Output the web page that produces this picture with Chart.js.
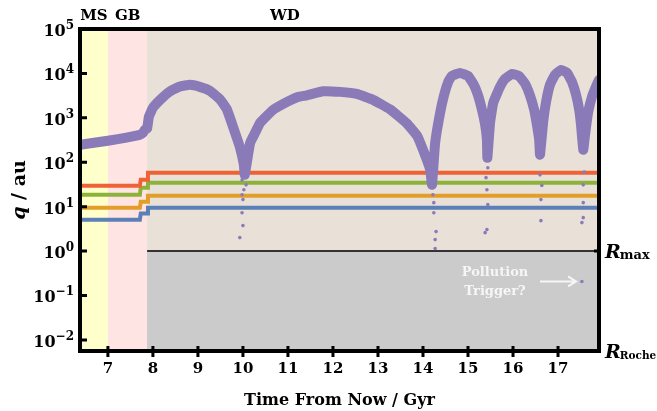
<!DOCTYPE html>
<html>
<head>
<meta charset="utf-8">
<script src="https://cdn.jsdelivr.net/npm/chart.js@4.4.1/dist/chart.umd.min.js"></script>
<style>
    html, body { margin: 0; padding: 0; background: #fff; }
    #wrap { width: 657px; height: 411px; position: relative; }
</style>
</head>
<body>
<div id="wrap"><canvas id="orbitChart"></canvas></div>
<script>
// 坐标轴范围
const timeMin = 6.38;
const timeMax = 17.91;
const qMin = 0.00562;
const qMax = 1e5;
const timeTicks = [7, 8, 9, 10, 11, 12, 13, 14, 15, 16, 17];
const qTickExponents = [-2, -1, 0, 1, 2, 3, 4, 5];

// 演化阶段
const phaseNames = ['MS', 'GB', 'WD'];
const phaseEdges = [6.38, 7.0, 7.87, 17.91];
const rMax = 1.0;

// 行星轨道 q (au)
const planetTime = [6.38, 7.71, 7.73, 7.87, 7.89, 17.91];
const planetRed = [29.6, 29.6, 40.5, 40.5, 58, 58];
const planetGreen = [18.6, 18.6, 26.7, 26.7, 34.7, 34.7];
const planetOrange = [9.5, 9.5, 12.9, 12.9, 17.7, 17.7];
const planetBlue = [5.1, 5.1, 7.0, 7.0, 9.5, 9.5];

// 小行星带近心距
const beltTime = [6.38, 7.00, 7.71, 7.78, 7.82, 7.87, 7.91, 8.00, 8.16, 8.38, 8.60, 8.82, 9.04, 9.27,
    9.49, 9.64, 9.78, 9.93, 10.02, 10.04, 10.16, 10.27, 10.38, 10.67, 10.98, 11.22, 11.42, 11.78,
    12.16, 12.53, 12.89, 13.27, 13.64, 13.87, 14.00, 14.16, 14.20, 14.27, 14.38, 14.47, 14.56, 14.64,
    14.82, 15.00, 15.13, 15.22, 15.31, 15.38, 15.42, 15.43, 15.49, 15.56, 15.71, 15.82, 15.98, 16.13,
    16.27, 16.38, 16.47, 16.53, 16.58, 16.60, 16.67, 16.73, 16.82, 16.93, 17.07, 17.20, 17.31, 17.40,
    17.47, 17.51, 17.56, 17.60, 17.67, 17.76, 17.84, 17.91];
const beltQ = [247, 304, 415, 460, 537, 566, 1050, 1680, 2540, 3950, 5100, 5520, 4980, 4040,
    2610, 1580, 628, 223, 88, 52, 274, 460, 773, 1510, 2290, 2960, 3210, 3950,
    3840, 3460, 2540, 1550, 752, 394, 191, 68, 31, 274, 1290, 3290, 6440, 8790,
    10260, 8790, 5520, 3290, 1510, 697, 320, 126, 773, 2170, 4980, 7520, 9750, 8790,
    5810, 3120, 1510, 697, 320, 148, 813, 2170, 5520, 9250, 12000, 10260, 6440, 3290,
    1510, 697, 191, 415, 1365, 3120, 4980, 7150];

// 散落的点
const strayTime = [9.98, 10.07, 10.02, 9.98, 10.0, 9.98, 10.0, 9.93,
    14.22, 14.24, 14.24, 14.29, 14.27, 14.27,
    15.40, 15.44, 15.42, 15.44, 15.42, 15.38,
    16.60, 16.64, 16.62, 16.62,
    17.58, 17.56, 17.56, 17.56, 17.53, 17.53];
const strayQ = [40, 31, 24, 18.6, 14.4, 7.3, 3.74, 2.01,
    18.6, 12.3, 7.3, 2.74, 1.81, 1.14,
    45, 75, 24, 11.1, 3.04, 2.6,
    52, 30, 14.4, 4.84,
    60, 31, 12.3, 5.66, 4.37, 0.207];

const colors = {
    belt: '#8a7bb8',
    red: '#ee6236',
    green: '#8db23a',
    orange: '#e39e2a',
    blue: '#5b7fb6',
    phase: ['#ffffcc', '#ffe4e4', '#e9e1d8'],
    inner: '#cbcbcb'
};

const serif = '"DejaVu Serif", "Liberation Serif", serif';

function toPoints(xs, ys) {
    return xs.map((x, i) => ({ x: x, y: ys[i] }));
}

// 背景、边框和文字
const decorPlugin = {
    id: 'decor',
    beforeDatasetsDraw(chart) {
        const { ctx, chartArea: a, scales: { x, y } } = chart;
        ctx.save();
        for (let i = 0; i < phaseNames.length; i++) {
            const x0 = x.getPixelForValue(phaseEdges[i]);
            const x1 = x.getPixelForValue(phaseEdges[i + 1]);
            ctx.fillStyle = colors.phase[i];
            ctx.fillRect(x0, a.top, x1 - x0, a.bottom - a.top);
        }
        const yr = y.getPixelForValue(rMax);
        const xw = x.getPixelForValue(phaseEdges[2]);
        ctx.fillStyle = colors.inner;
        ctx.fillRect(xw, yr, a.right - xw, a.bottom - yr);
        ctx.strokeStyle = '#333';
        ctx.lineWidth = 2;
        ctx.beginPath();
        ctx.moveTo(xw, yr);
        ctx.lineTo(a.right, yr);
        ctx.stroke();
        ctx.restore();
    },
    afterDraw(chart) {
        const { ctx, chartArea: a, scales: { x, y } } = chart;
        ctx.save();
        ctx.fillStyle = '#000';
        ctx.strokeStyle = '#000';

        // 边框
        ctx.lineWidth = 4;
        ctx.strokeRect(a.left, a.top, a.right - a.left, a.bottom - a.top);

        // 刻度
        ctx.lineWidth = 3;
        ctx.beginPath();
        qTickExponents.forEach(e => {
            const py = y.getPixelForValue(Math.pow(10, e));
            ctx.moveTo(a.left, py);
            ctx.lineTo(a.left + 7, py);
        });
        timeTicks.forEach(t => {
            const px = x.getPixelForValue(t);
            ctx.moveTo(px, a.bottom - 5);
            ctx.lineTo(px, a.bottom + 6);
        });
        const yr = y.getPixelForValue(rMax);
        ctx.moveTo(a.right - 5, yr);
        ctx.lineTo(a.right, yr);
        ctx.stroke();

        // y 轴刻度标签 (10 的幂)
        ctx.textBaseline = 'alphabetic';
        ctx.textAlign = 'right';
        qTickExponents.forEach(e => {
            const py = y.getPixelForValue(Math.pow(10, e));
            const sup = e < 0 ? '\u2212' + (-e) : String(e);
            ctx.font = 'bold 12px ' + serif;
            const wSup = ctx.measureText(sup).width;
            ctx.fillText(sup, a.left - 6, py);
            ctx.font = 'bold 16px ' + serif;
            ctx.fillText('10', a.left - 6 - wSup, py + 7);
        });

        // 阶段标签
        ctx.textAlign = 'center';
        ctx.font = 'bold 15px ' + serif;
        const labelAt = [6.69, 7.44, 10.93];
        phaseNames.forEach((n, i) => {
            ctx.fillText(n, x.getPixelForValue(labelAt[i]), 20);
        });

        // 右侧 R 标签
        const drawR = (sub, py, subSize) => {
            ctx.textAlign = 'left';
            ctx.font = 'italic bold 19px ' + serif;
            ctx.fillText('R', a.right + 6, py + 7);
            const w = ctx.measureText('R').width;
            ctx.font = 'bold ' + subSize + 'px ' + serif;
            ctx.fillText(sub, a.right + 5 + w, py + 8);
        };
        drawR('max', yr, 13);
        drawR('Roche', a.bottom, 10.5);

        // x 轴标题
        ctx.textAlign = 'center';
        ctx.font = 'bold 16px ' + serif;
        ctx.fillText('Time From Now / Gyr', (a.left + a.right) / 2, 405);

        // y 轴标题
        ctx.save();
        ctx.translate(25, (a.top + a.bottom) / 2);
        ctx.rotate(-Math.PI / 2);
        ctx.font = 'italic bold 19px ' + serif;
        const wq = ctx.measureText('q').width;
        ctx.font = 'bold 19px ' + serif;
        const wr = ctx.measureText(' / au').width;
        ctx.textAlign = 'left';
        ctx.font = 'italic bold 19px ' + serif;
        ctx.fillText('q', -(wq + wr) / 2, 0);
        ctx.font = 'bold 19px ' + serif;
        ctx.fillText(' / au', -(wq + wr) / 2 + wq, 0);
        ctx.restore();

        // 污染触发注释
        ctx.fillStyle = '#f6f6f6';
        ctx.strokeStyle = '#f6f6f6';
        ctx.textAlign = 'center';
        ctx.font = 'bold 13px ' + serif;
        const tx = x.getPixelForValue(15.6);
        ctx.fillText('Pollution', tx, y.getPixelForValue(0.365) + 5);
        ctx.fillText('Trigger?', tx, y.getPixelForValue(0.136) + 5);
        const ay = y.getPixelForValue(0.207);
        const ax0 = x.getPixelForValue(16.6);
        const ax1 = x.getPixelForValue(17.4);
        ctx.lineWidth = 2;
        ctx.beginPath();
        ctx.moveTo(ax0, ay);
        ctx.lineTo(ax1, ay);
        ctx.moveTo(ax1 - 8, ay - 5);
        ctx.lineTo(ax1, ay);
        ctx.lineTo(ax1 - 8, ay + 5);
        ctx.stroke();
        ctx.restore();
    }
};

const planetSet = (data, color) => ({
    data: toPoints(planetTime, data),
    borderColor: color,
    backgroundColor: color,
    borderWidth: 4,
    pointRadius: 0,
    tension: 0
});

new Chart(document.getElementById('orbitChart'), {
    type: 'line',
    data: {
        datasets: [
            {
                data: toPoints(strayTime, strayQ),
                showLine: false,
                pointRadius: 1.8,
                borderWidth: 0,
                backgroundColor: colors.belt,
                borderColor: colors.belt
            },
            {
                data: toPoints(beltTime, beltQ),
                borderColor: colors.belt,
                backgroundColor: colors.belt,
                borderWidth: 10,
                borderJoinStyle: 'round',
                borderCapStyle: 'round',
                pointRadius: 0,
                tension: 0.1
            },
            planetSet(planetRed, colors.red),
            planetSet(planetGreen, colors.green),
            planetSet(planetOrange, colors.orange),
            planetSet(planetBlue, colors.blue)
        ]
    },
    options: {
        responsive: true,
        maintainAspectRatio: false,
        animation: false,
        layout: { padding: { top: 29, right: 58, left: 0, bottom: 0 } },
        plugins: {
            legend: { display: false },
            tooltip: { enabled: false }
        },
        scales: {
            x: {
                type: 'linear',
                min: timeMin,
                max: timeMax,
                grid: { display: false, drawTicks: false },
                border: { display: false },
                afterBuildTicks: s => { s.ticks = timeTicks.map(v => ({ value: v })); },
                afterFit: s => { s.height = 60; },
                ticks: {
                    padding: 9,
                    color: '#000',
                    font: { family: serif, size: 15, weight: 'bold' },
                    callback: v => String(v)
                }
            },
            y: {
                type: 'logarithmic',
                min: qMin,
                max: qMax,
                grid: { display: false, drawTicks: false },
                border: { display: false },
                afterFit: s => { s.width = 80; },
                ticks: { display: false }
            }
        }
    },
    plugins: [decorPlugin]
});
</script>
</body>
</html>
